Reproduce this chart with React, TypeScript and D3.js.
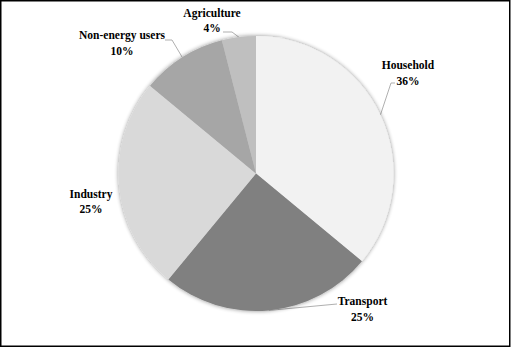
import React from "react";
import * as d3 from "d3";

const categories = ["Household", "Transport", "Industry", "Non-energy users", "Agriculture"];
const values = [36, 25, 25, 10, 4];
const percentLabels = ["36%", "25%", "25%", "10%", "4%"];

const colors = ["#f2f2f2", "#808080", "#d9d9d9", "#a6a6a6", "#bfbfbf"];

// label layout (relative to pie centre): text centre x, name baseline y, leader elbow/end
const labelLayout = [
  { dx: 152, by: -104.5, leader: [[135, -90.5], [139, -90.5]] },
  { dx: 106.5, by: 131.5, leader: [[81, 130.5]] },
  { dx: -165, by: 24, leader: null },
  { dx: -134, by: -134.5, leader: [[-84, -133.5], [-91, -133.5]] },
  { dx: -44, by: -157, leader: [[-24, -141.5], [-33, -141.5]] },
];

const W = 511;
const H = 348;
const cx = 256;
const cy = 173.5;
const R = 137.5;

export default function App() {
  const pie = d3.pie<number>().sort(null).value((d) => d);
  const arcs = pie(values);
  const arcGen = d3.arc<d3.PieArcDatum<number>>().innerRadius(0).outerRadius(R);
  const font = "'Liberation Serif', serif";

  return (
    <svg
      width={W}
      height={H}
      style={{ position: "absolute", left: 0, top: 0, background: "#fff" }}
    >
      <defs>
        <filter id="sh" x="-20%" y="-20%" width="140%" height="140%">
          <feGaussianBlur in="SourceAlpha" stdDeviation="2.2" />
          <feComponentTransfer>
            <feFuncA type="linear" slope="0.45" />
          </feComponentTransfer>
          <feMerge>
            <feMergeNode />
            <feMergeNode in="SourceGraphic" />
          </feMerge>
        </filter>
      </defs>
      <rect x={0.75} y={0.75} width={509} height={345.5} fill="#fff" stroke="#000" strokeWidth={1.5} />
      <g transform={`translate(${cx},${cy})`}>
        {arcs.map((a, i) => {
          const L = labelLayout[i];
          if (!L.leader) return null;
          const mid = (a.startAngle + a.endAngle) / 2;
          const p0: [number, number] = [R * Math.sin(mid), -R * Math.cos(mid)];
          const pts = [p0, ...(L.leader as [number, number][])];
          return (
            <path
              key={"l" + i}
              d={d3.line()(pts) || ""}
              fill="none"
              stroke="#a6a6a6"
              strokeWidth={0.9}
            />
          );
        })}
        <g filter="url(#sh)">
          {arcs.map((a, i) => (
            <path key={i} d={arcGen(a) || ""} fill={colors[i]} />
          ))}
        </g>
        {arcs.map((a, i) => {
          const L = labelLayout[i];
          return (
            <text
              key={"t" + i}
              x={L.dx}
              y={L.by}
              textAnchor="middle"
              fontFamily={font}
              fontWeight="bold"
              fontSize={11.5}
              fill="#000"
            >
              <tspan x={L.dx}>{categories[i]}</tspan>
              <tspan x={L.dx} dy={15.5}>{percentLabels[i]}</tspan>
            </text>
          );
        })}
      </g>
    </svg>
  );
}
